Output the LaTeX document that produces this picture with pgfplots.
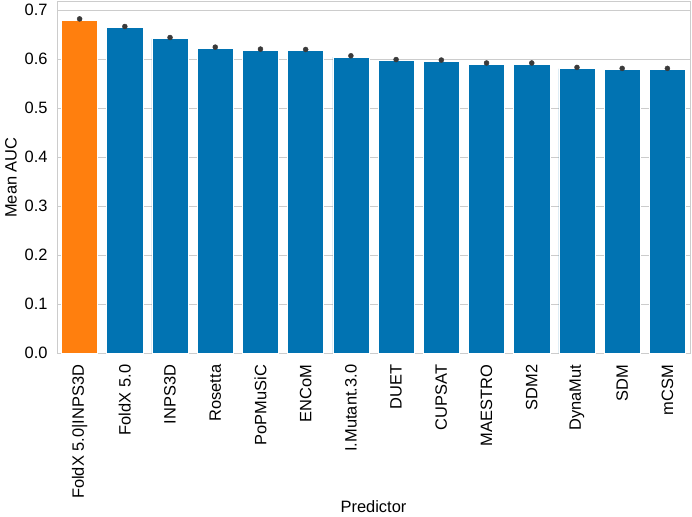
\documentclass[border=0pt]{standalone}
\usepackage{fontspec}
\setmainfont{Liberation Sans}
\usepackage{pgfplots}
\pgfplotsset{compat=1.18}
\definecolor{sbblue}{HTML}{0173B2}
\definecolor{sborange}{HTML}{FF7F0E}
\definecolor{gridc}{HTML}{CCCCCC}
\definecolor{errc}{HTML}{3A3A3A}
\begin{document}
\begin{tikzpicture}
\begin{axis}[
  name=ax,
  scale only axis,
  width=633bp, height=351.6bp,
  xmin=-0.5, xmax=13.5,
  ymin=0, ymax=0.7176,
  ybar, bar width=0.8, bar shift=0pt,
  xtick={0,...,13},
  xticklabels={FoldX 5.0|INPS3D,FoldX 5.0,INPS3D,Rosetta,PoPMuSiC,ENCoM,I.Mutant.3.0,DUET,CUPSAT,MAESTRO,SDM2,DynaMut,SDM,mCSM},
  x tick label style={rotate=90, anchor=east, font=\fontsize{16.5}{19}\selectfont},
  ytick={0,0.1,...,0.71},
  y tick label style={font=\fontsize{16.5}{19}\selectfont},
  yticklabel style={/pgf/number format/.cd, fixed, fixed zerofill, precision=1, assume math mode=true},
  major tick length=0pt,
  xticklabel shift=8bp,
  yticklabel shift=6bp,
  ymajorgrids, grid style={gridc, line width=1bp},
  axis line style={gridc, line width=1bp},
  xlabel={Predictor}, ylabel={Mean AUC},
  label style={font=\fontsize{16.5}{19}\selectfont},
  xlabel style={yshift=5bp},
  ylabel style={yshift=1bp},
]
\addplot[fill=sborange, draw=white, line width=0.6bp] coordinates {
 (0,0.680)
};
\addplot[fill=sbblue, draw=white, line width=0.6bp] coordinates {
 (1,0.6645)
 (2,0.642)
 (3,0.6224)
 (4,0.6184)
 (5,0.6176)
 (6,0.6047)
 (7,0.597)
 (8,0.596)
 (9,0.590)
 (10,0.590)
 (11,0.581)
 (12,0.579)
 (13,0.579)
};
% error bar markers (mean + tiny CI), drawn as dots
\addplot[sharp plot, only marks, mark=*, mark size=2.5bp, mark options={fill=errc, draw=errc}] coordinates {
 (0,0.6825)
 (1,0.667)
 (2,0.6445)
 (3,0.6249)
 (4,0.6209)
 (5,0.6201)
 (6,0.6072)
 (7,0.5995)
 (8,0.5985)
 (9,0.5925)
 (10,0.5925)
 (11,0.5835)
 (12,0.5815)
 (13,0.5815)
};
\end{axis}
\pgfresetboundingbox
\path[use as bounding box] ([xshift=-57bp,yshift=-163.5bp]ax.south west) rectangle ([xshift=2bp,yshift=1.7bp]ax.north east);
\end{tikzpicture}
\end{document}
